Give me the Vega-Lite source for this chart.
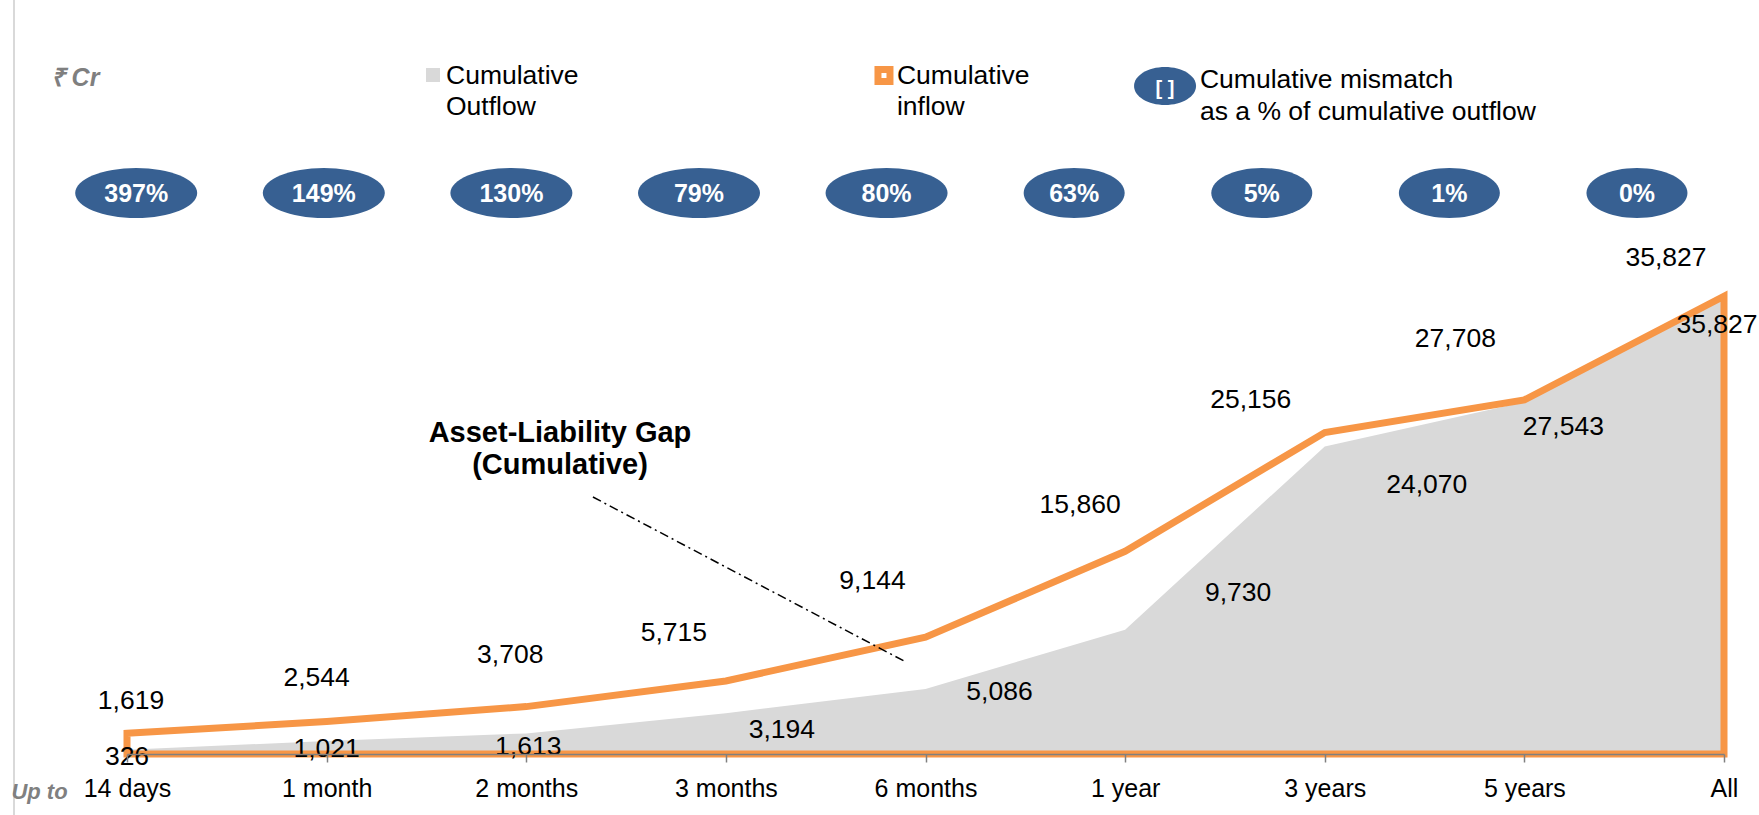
{
  "$schema": "https://vega.github.io/schema/vega-lite/v6.json",
  "width": 1597,
  "height": 754,
  "autosize": {"type": "none"},
  "padding": {"left": 127, "top": 0, "right": 35, "bottom": 61},
  "background": "white",
  "config": {"font": "Liberation Sans", "view": {"stroke": null}},
  "datasets": {
    "alm": [
      {"period": "14 days", "outflow": 326, "inflow": 1619, "mismatch": 3.97},
      {"period": "1 month", "outflow": 1021, "inflow": 2544, "mismatch": 1.49},
      {"period": "2 months", "outflow": 1613, "inflow": 3708, "mismatch": 1.30},
      {"period": "3 months", "outflow": 3194, "inflow": 5715, "mismatch": 0.79},
      {"period": "6 months", "outflow": 5086, "inflow": 9144, "mismatch": 0.80},
      {"period": "1 year", "outflow": 9730, "inflow": 15860, "mismatch": 0.63},
      {"period": "3 years", "outflow": 24070, "inflow": 25156, "mismatch": 0.05},
      {"period": "5 years", "outflow": 27543, "inflow": 27708, "mismatch": 0.01},
      {"period": "All", "outflow": 35827, "inflow": 35827, "mismatch": 0.0}
    ]
  },
  "layer": [
    {
      "data": {"name": "alm"},
      "encoding": {
        "x": {
          "field": "period",
          "type": "nominal",
          "scale": {"type": "point", "padding": 0, "domain": ["14 days", "1 month", "2 months", "3 months", "6 months", "1 year", "3 years", "5 years", "All"]},
          "axis": {
            "title": "Up to", "titleX": -88, "titleY": 37, "titleBaseline": "middle", "titleAlign": "center",
            "titleFontSize": 22, "titleFontStyle": "italic", "titleFontWeight": "bold", "titleColor": "#808080",
            "labelFontSize": 25, "labelColor": "#000000", "labelPadding": 14, "labelAngle": 0, "labelOverlap": false,
            "tickSize": 8, "tickColor": "#808080", "tickWidth": 1.5,
            "domainColor": "#808080", "domainWidth": 1.5, "grid": false, "zindex": 1
          }
        }
      },
      "layer": [
        {
          "mark": {"type": "area", "color": "#D9D9D9", "opacity": 1},
          "encoding": {"y": {"field": "outflow", "type": "quantitative", "scale": {"domain": [0, 59000], "nice": false, "zero": false}, "axis": null}}
        },
        {
          "mark": {"type": "area", "fillOpacity": 0, "stroke": "#F79646", "strokeWidth": 7, "strokeJoin": "miter"},
          "encoding": {"y": {"field": "inflow", "type": "quantitative", "scale": {"domain": [0, 59000], "nice": false, "zero": false}, "axis": null}}
        },
        {
          "encoding": {
            "y": {"field": "inflow", "type": "quantitative", "scale": {"domain": [0, 59000], "nice": false, "zero": false}, "axis": null},
            "text": {"field": "inflow", "type": "quantitative", "format": ","}
          },
          "layer": [
            {"transform": [{"filter": "datum.period === '14 days'"}], "mark": {"type": "text", "fontSize": 26.5, "color": "#000000", "dx": 4, "dy": -32}},
            {"transform": [{"filter": "datum.period === '1 month'"}], "mark": {"type": "text", "fontSize": 26.5, "color": "#000000", "dx": -10, "dy": -43}},
            {"transform": [{"filter": "datum.period === '2 months'"}], "mark": {"type": "text", "fontSize": 26.5, "color": "#000000", "dx": -16, "dy": -52}},
            {"transform": [{"filter": "datum.period === '3 months'"}], "mark": {"type": "text", "fontSize": 26.5, "color": "#000000", "dx": -52, "dy": -48}},
            {"transform": [{"filter": "datum.period === '6 months'"}], "mark": {"type": "text", "fontSize": 26.5, "color": "#000000", "dx": -53, "dy": -56}},
            {"transform": [{"filter": "datum.period === '1 year'"}], "mark": {"type": "text", "fontSize": 26.5, "color": "#000000", "dx": -45, "dy": -46}},
            {"transform": [{"filter": "datum.period === '3 years'"}], "mark": {"type": "text", "fontSize": 26.5, "color": "#000000", "dx": -74, "dy": -33}},
            {"transform": [{"filter": "datum.period === '5 years'"}], "mark": {"type": "text", "fontSize": 26.5, "color": "#000000", "dx": -69, "dy": -61}},
            {"transform": [{"filter": "datum.period === 'All'"}], "mark": {"type": "text", "fontSize": 26.5, "color": "#000000", "dx": -58, "dy": -38}}
          ]
        },
        {
          "encoding": {
            "y": {"field": "outflow", "type": "quantitative", "scale": {"domain": [0, 59000], "nice": false, "zero": false}, "axis": null},
            "text": {"field": "outflow", "type": "quantitative", "format": ","}
          },
          "layer": [
            {"transform": [{"filter": "datum.period === '14 days'"}], "mark": {"type": "text", "fontSize": 26.5, "color": "#000000", "dx": 0, "dy": 7}},
            {"transform": [{"filter": "datum.period === '1 month'"}], "mark": {"type": "text", "fontSize": 26.5, "color": "#000000", "dx": 0, "dy": 8}},
            {"transform": [{"filter": "datum.period === '2 months'"}], "mark": {"type": "text", "fontSize": 26.5, "color": "#000000", "dx": 2, "dy": 14}},
            {"transform": [{"filter": "datum.period === '3 months'"}], "mark": {"type": "text", "fontSize": 26.5, "color": "#000000", "dx": 56, "dy": 17}},
            {"transform": [{"filter": "datum.period === '6 months'"}], "mark": {"type": "text", "fontSize": 26.5, "color": "#000000", "dx": 74, "dy": 3}},
            {"transform": [{"filter": "datum.period === '1 year'"}], "mark": {"type": "text", "fontSize": 26.5, "color": "#000000", "dx": 113, "dy": -37}},
            {"transform": [{"filter": "datum.period === '3 years'"}], "mark": {"type": "text", "fontSize": 26.5, "color": "#000000", "dx": 102, "dy": 39}},
            {"transform": [{"filter": "datum.period === '5 years'"}], "mark": {"type": "text", "fontSize": 26.5, "color": "#000000", "dx": 39, "dy": 25}},
            {"transform": [{"filter": "datum.period === 'All'"}], "mark": {"type": "text", "fontSize": 26.5, "color": "#000000", "dx": -7, "dy": 29}}
          ]
        }
      ]
    },
    {
      "data": {"name": "alm"},
      "encoding": {
        "x": {
          "field": "period",
          "type": "nominal",
          "scale": {"type": "point", "padding": 0.2565, "align": 0.0956, "domain": ["14 days", "1 month", "2 months", "3 months", "6 months", "1 year", "3 years", "5 years", "All"]},
          "axis": null
        },
        "y": {"datum": 43898, "type": "quantitative", "scale": {"domain": [0, 59000], "nice": false, "zero": false}, "axis": null}
      },
      "layer": [
        {
          "transform": [{"filter": {"field": "period", "oneOf": ["14 days", "1 month", "2 months", "3 months", "6 months"]}}],
          "mark": {"type": "point", "shape": "M-1,0C-1,-0.2262,-0.5523,-0.41,0,-0.41C0.5523,-0.41,1,-0.2262,1,0C1,0.2262,0.5523,0.41,0,0.41C-0.5523,0.41,-1,0.2262,-1,0Z", "size": 14884, "filled": true, "color": "#376092", "opacity": 1, "strokeWidth": 0}
        },
        {
          "transform": [{"filter": {"field": "period", "oneOf": ["1 year", "3 years", "5 years", "All"]}}],
          "mark": {"type": "point", "shape": "M-1,0C-1,-0.2734,-0.5523,-0.495,0,-0.495C0.5523,-0.495,1,-0.2734,1,0C1,0.2734,0.5523,0.495,0,0.495C-0.5523,0.495,-1,0.2734,-1,0Z", "size": 10201, "filled": true, "color": "#376092", "opacity": 1, "strokeWidth": 0}
        },
        {
          "mark": {"type": "text", "color": "#FFFFFF", "fontWeight": "bold", "fontSize": 25, "dy": 1},
          "encoding": {"text": {"field": "mismatch", "type": "quantitative", "format": ".0%"}}
        }
      ]
    },
    {
      "data": {"values": [{}]},
      "layer": [
        {
          "mark": {"type": "rule", "color": "#D9D9D9", "strokeWidth": 2},
          "encoding": {
            "x": {"datum": -0.566, "type": "quantitative", "scale": {"domain": [0, 8], "nice": false, "zero": false}, "axis": null},
            "y": {"datum": 59000, "type": "quantitative", "scale": {"domain": [0, 59000], "nice": false, "zero": false}, "axis": null},
            "y2": {"datum": -4800}
          }
        },
        {
          "mark": {"type": "text", "text": "₹ Cr", "fontSize": 25, "fontWeight": "bold", "fontStyle": "italic", "color": "#7F7F7F", "align": "center", "baseline": "alphabetic"},
          "encoding": {
            "x": {"datum": -0.2605, "type": "quantitative", "scale": {"domain": [0, 8], "nice": false, "zero": false}, "axis": null},
            "y": {"datum": 52302, "type": "quantitative", "scale": {"domain": [0, 59000], "nice": false, "zero": false}, "axis": null}
          }
        },
        {
          "mark": {"type": "point", "shape": "square", "size": 196, "filled": true, "color": "#D9D9D9", "opacity": 1, "strokeWidth": 0},
          "encoding": {
            "x": {"datum": 1.533, "type": "quantitative", "scale": {"domain": [0, 8], "nice": false, "zero": false}, "axis": null},
            "y": {"datum": 53131, "type": "quantitative", "scale": {"domain": [0, 59000], "nice": false, "zero": false}, "axis": null}
          }
        },
        {
          "mark": {"type": "text", "text": ["Cumulative", "Outflow"], "fontSize": 26.5, "color": "#000000", "align": "left", "baseline": "alphabetic", "lineHeight": 31},
          "encoding": {
            "x": {"datum": 1.598, "type": "quantitative", "scale": {"domain": [0, 8], "nice": false, "zero": false}, "axis": null},
            "y": {"datum": 52427, "type": "quantitative", "scale": {"domain": [0, 59000], "nice": false, "zero": false}, "axis": null}
          }
        },
        {
          "mark": {"type": "point", "shape": "square", "size": 361, "filled": true, "color": "#F79646", "opacity": 1, "strokeWidth": 0},
          "encoding": {
            "x": {"datum": 3.792, "type": "quantitative", "scale": {"domain": [0, 8], "nice": false, "zero": false}, "axis": null},
            "y": {"datum": 53092, "type": "quantitative", "scale": {"domain": [0, 59000], "nice": false, "zero": false}, "axis": null}
          }
        },
        {
          "mark": {"type": "point", "shape": "square", "size": 25, "filled": true, "color": "#FFFFFF", "opacity": 1, "strokeWidth": 0},
          "encoding": {
            "x": {"datum": 3.792, "type": "quantitative", "scale": {"domain": [0, 8], "nice": false, "zero": false}, "axis": null},
            "y": {"datum": 53092, "type": "quantitative", "scale": {"domain": [0, 59000], "nice": false, "zero": false}, "axis": null}
          }
        },
        {
          "mark": {"type": "text", "text": ["Cumulative", "inflow"], "fontSize": 26.5, "color": "#000000", "align": "left", "baseline": "alphabetic", "lineHeight": 31},
          "encoding": {
            "x": {"datum": 3.857, "type": "quantitative", "scale": {"domain": [0, 8], "nice": false, "zero": false}, "axis": null},
            "y": {"datum": 52427, "type": "quantitative", "scale": {"domain": [0, 59000], "nice": false, "zero": false}, "axis": null}
          }
        },
        {
          "mark": {"type": "point", "shape": "M-1,0C-1,-0.3386,-0.5523,-0.613,0,-0.613C0.5523,-0.613,1,-0.3386,1,0C1,0.3386,0.5523,0.613,0,0.613C-0.5523,0.613,-1,0.3386,-1,0Z", "size": 3844, "filled": true, "color": "#376092", "opacity": 1, "strokeWidth": 0},
          "encoding": {
            "x": {"datum": 5.2, "type": "quantitative", "scale": {"domain": [0, 8], "nice": false, "zero": false}, "axis": null},
            "y": {"datum": 52270, "type": "quantitative", "scale": {"domain": [0, 59000], "nice": false, "zero": false}, "axis": null}
          }
        },
        {
          "mark": {"type": "text", "text": "[ ]", "fontSize": 20, "fontWeight": "bold", "color": "#FFFFFF", "align": "center", "baseline": "middle"},
          "encoding": {
            "x": {"datum": 5.2, "type": "quantitative", "scale": {"domain": [0, 8], "nice": false, "zero": false}, "axis": null},
            "y": {"datum": 52020, "type": "quantitative", "scale": {"domain": [0, 59000], "nice": false, "zero": false}, "axis": null}
          }
        },
        {
          "mark": {"type": "text", "text": ["Cumulative mismatch", "as a % of cumulative outflow"], "fontSize": 26.5, "color": "#000000", "align": "left", "baseline": "alphabetic", "lineHeight": 32},
          "encoding": {
            "x": {"datum": 5.375, "type": "quantitative", "scale": {"domain": [0, 8], "nice": false, "zero": false}, "axis": null},
            "y": {"datum": 52114, "type": "quantitative", "scale": {"domain": [0, 59000], "nice": false, "zero": false}, "axis": null}
          }
        },
        {
          "mark": {"type": "text", "text": ["Asset-Liability Gap", "(Cumulative)"], "fontSize": 29, "fontWeight": "bold", "color": "#000000", "align": "center", "baseline": "alphabetic", "lineHeight": 32},
          "encoding": {
            "x": {"datum": 2.169, "type": "quantitative", "scale": {"domain": [0, 8], "nice": false, "zero": false}, "axis": null},
            "y": {"datum": 24382, "type": "quantitative", "scale": {"domain": [0, 59000], "nice": false, "zero": false}, "axis": null}
          }
        },
        {
          "mark": {"type": "rule", "color": "#000000", "strokeWidth": 1.5, "strokeDash": [9, 4, 2, 4]},
          "encoding": {
            "x": {"datum": 2.334, "type": "quantitative", "scale": {"domain": [0, 8], "nice": false, "zero": false}, "axis": null},
            "x2": {"datum": 3.902},
            "y": {"datum": 20110, "type": "quantitative", "scale": {"domain": [0, 59000], "nice": false, "zero": false}, "axis": null},
            "y2": {"datum": 7199}
          }
        }
      ]
    }
  ],
  "resolve": {"scale": {"x": "independent"}}
}
